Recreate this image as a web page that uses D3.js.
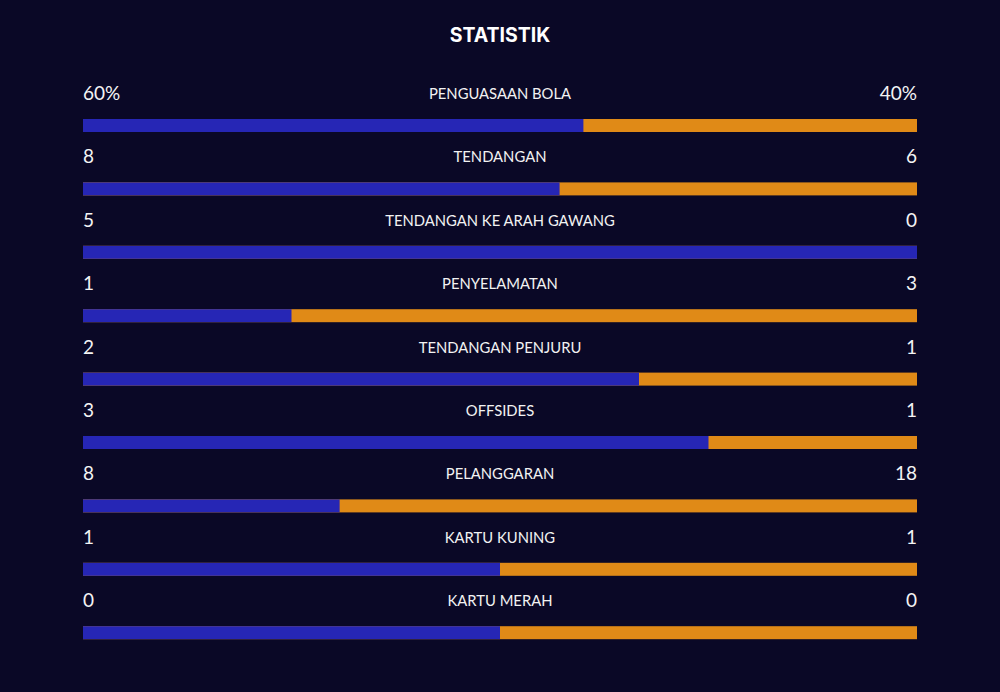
<!DOCTYPE html>
<html><head><meta charset="utf-8">
<script src="https://cdn.jsdelivr.net/npm/d3@7"></script>
<style>html,body{margin:0;padding:0;background:#0a0826;}svg{display:block;}</style>
</head><body>
<svg id="chart" width="1000" height="692"></svg>
<script>
const categories = ["PENGUASAAN BOLA","TENDANGAN","TENDANGAN KE ARAH GAWANG","PENYELAMATAN","TENDANGAN PENJURU","OFFSIDES","PELANGGARAN","KARTU KUNING","KARTU MERAH"];
const homeValues = [60, 8, 5, 1, 2, 3, 8, 1, 0];
const awayValues = [40, 6, 0, 3, 1, 1, 18, 1, 0];
const homeLabels = ["60%","8","5","1","2","3","8","1","0"];
const awayLabels = ["40%","6","0","3","1","1","18","1","0"];

const W = 1000, H = 692;
const svg = d3.select("#chart");
svg.append("rect").attr("width", W).attr("height", H).attr("fill", "#0a0826");

svg.append("text").attr("x", 500).attr("y", 42).attr("text-anchor", "middle")
  .attr("fill", "#ffffff").attr("font-family", "Inter, 'Open Sans', sans-serif")
  .attr("font-weight", 700).attr("font-size", 19.5).text("STATISTIK");

const y = d3.scaleBand().domain(categories).range([68, 68 + 63.4 * categories.length]).paddingInner(0).paddingOuter(0);
const x = d3.scaleLinear().domain([0, 1]).range([83, 917]);

const rows = svg.selectAll("g.row").data(categories.map((c, i) => ({c, h: homeValues[i], a: awayValues[i], hl: homeLabels[i], al: awayLabels[i]})))
  .enter().append("g").attr("class", "row").attr("transform", d => `translate(0,${y(d.c)})`);

const frac = d => (d.h + d.a) === 0 ? 0.5 : d.h / (d.h + d.a);

rows.append("rect").attr("x", x(0)).attr("y", 51).attr("height", 13)
  .attr("width", d => x(1) - x(0)).attr("fill", "#e08a17");
rows.append("rect").attr("x", x(0)).attr("y", 51).attr("height", 13)
  .attr("width", d => x(frac(d)) - x(0)).attr("fill", "#2626b5");

rows.append("text").attr("x", x(0)).attr("y", 32).attr("fill", "#f4f4f4")
  .attr("font-family", "Lato, sans-serif").attr("font-weight", 400).attr("font-size", 19).text(d => d.hl);
rows.append("text").attr("x", x(1)).attr("y", 32).attr("text-anchor", "end").attr("fill", "#f4f4f4")
  .attr("font-family", "Lato, sans-serif").attr("font-weight", 400).attr("font-size", 19).text(d => d.al);
rows.append("text").attr("x", 500).attr("y", 31).attr("text-anchor", "middle").attr("fill", "#f2f2f2")
  .attr("font-family", "Lato, sans-serif").attr("font-size", 14.8).text(d => d.c);
</script>
</body></html>
